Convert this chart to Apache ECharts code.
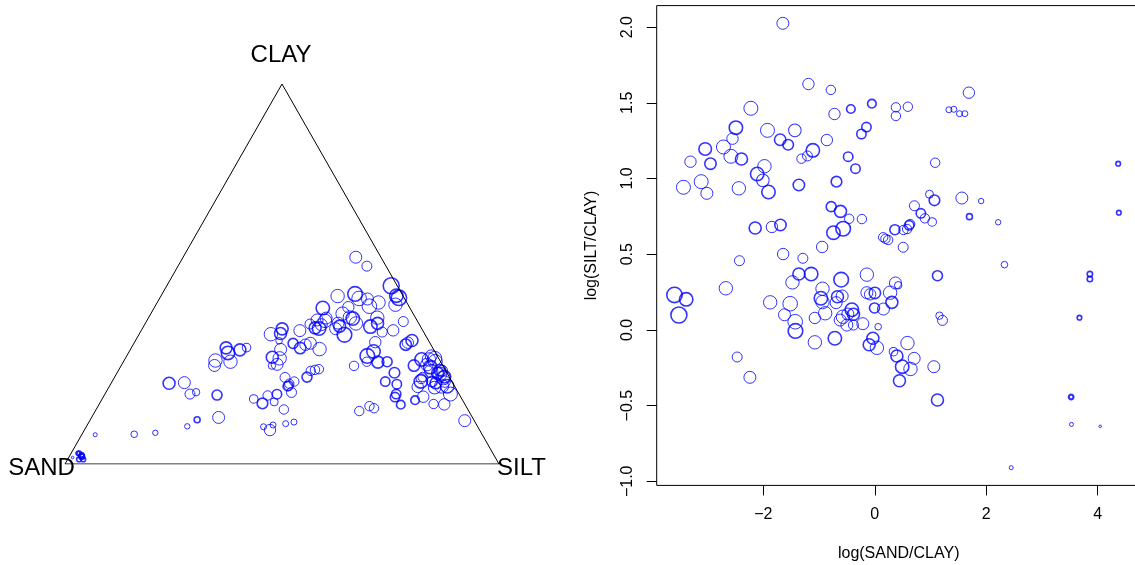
<!DOCTYPE html>
<html>
<head>
<meta charset="utf-8">
<script src="https://cdn.jsdelivr.net/npm/echarts@6/dist/echarts.min.js"></script>
<style>
  html, body { margin: 0; padding: 0; background: #fff; }
  #main { width: 1135px; height: 565px; }
</style>
</head>
<body>
<div id="main"></div>
<script>
// log-ratio coordinates of each sample (natural log)
var logSandClay = [
  -1.649, -2.223, -2.492, -2.553, -1.925, -1.697, -1.554, -1.434, -2.715, -3.043,
  -2.582, -2.392, -3.307, -2.948, -1.315, -1.979, -2.110, -2.008, -3.115, -3.433,
  -3.013, -2.439, -1.907, -1.362, -2.146, -1.846, -1.692, -1.644,
  -1.190, -0.788, -0.723, -0.429, -0.052, 0.379, 0.379, 0.594, 1.330, 1.419,
  1.520, 1.617, -0.149, -0.239, -0.860, -1.111, -1.208, -0.477, -0.346, 1.084,
  -0.687, -0.782, -0.615, -0.459, -0.231, -0.741, -0.567, -0.944, 0.151, 0.192,
  0.240, 0.361, 0.515, 0.617, 0.635, 0.581, 0.712, 0.827, 0.899, 1.030,
  0.982, 1.071, 1.563, 0.510,
  1.689, 4.368, 1.909, 1.699, 2.214, 4.380,
  -2.428, -1.290, -1.362, -1.477, -2.672, -3.594, -3.384, -3.515, -1.877, -1.518,
  -1.620, -1.428, -1.423, -2.469, -2.241,
  -1.141, -0.603, -0.142, 0.371, 0.420, 1.125, -0.938, -0.967, -0.938, -0.669,
  -0.585, -0.693, -0.890, -1.075, -0.142, -0.083, 0.002, 0.276, 0.307, -0.005,
  0.156, -0.411, -0.382, -0.483, -0.572, -0.621, -0.501, -0.382, -0.214, 0.061,
  -1.075, -0.716, -0.034, -0.100, 0.038, 0.587, 0.336, 0.397, 0.707, 0.492,
  0.641, 0.443, 1.060, 1.125, 1.161, 1.215,
  2.327, 3.860, 3.860, 3.673, 3.524, 3.530, 4.045, 2.448
];
var logSiltClay = [
  2.025, 1.464, 1.336, 1.263, 1.318, 1.256, 1.223, 1.318, 1.208, 1.195,
  1.147, 1.129, 1.111, 1.098, 1.131, 1.081, 1.030, 0.988, 0.979, 0.942,
  0.902, 0.935, 0.911, 0.957, 0.673, 0.680, 0.693, 0.501,
  1.624, 1.585, 1.426, 1.459, 1.494, 1.470, 1.413, 1.474, 1.454, 1.457,
  1.428, 1.428, 1.340, 1.294, 1.254, 1.186, 1.149, 1.144, 1.065, 1.104,
  0.979, 0.814, 0.783, 0.734, 0.732, 0.642, 0.668, 0.548, 0.612, 0.602,
  0.594, 0.662, 0.660, 0.691, 0.699, 0.666, 0.820, 0.770, 0.737, 0.713,
  0.896, 0.856, 0.871, 0.546,
  1.567, 1.098, 0.851, 0.748, 0.711, 0.774,
  0.457, 0.473, 0.369, 0.314, 0.275, 0.231, 0.202, 0.098, 0.182, 0.173,
  0.100, 0.054, -0.007, -0.179, -0.313,
  0.369, 0.332, 0.365, 0.310, 0.295, 0.358, 0.272, 0.209, 0.184, 0.219,
  0.224, 0.180, 0.110, 0.079, 0.246, 0.235, 0.244, 0.246, 0.182, 0.145,
  0.138, 0.133, 0.103, 0.105, 0.087, 0.065, 0.032, 0.032, 0.041, 0.021,
  -0.082, -0.055, -0.055, -0.098, -0.118, -0.087, -0.144, -0.172, -0.188, -0.243,
  -0.258, -0.336, -0.243, -0.463, 0.094, 0.063,
  0.431, 0.369, 0.336, 0.081, -0.443, -0.624, -0.637, -0.910
];
// value shown by the circle size
var bubble = [
  6.0, 7.0, 6.7, 5.7, 7.0, 5.7, 5.3, 6.3, 7.0, 6.3,
  7.0, 6.0, 5.7, 5.7, 4.7, 6.7, 6.7, 6.3, 7.0, 7.0,
  6.0, 6.7, 6.7, 5.7, 6.0, 5.7, 5.7, 5.7,
  5.7, 4.7, 5.7, 4.3, 4.3, 4.7, 4.7, 4.7, 3.0, 3.0,
  3.0, 3.0, 4.7, 4.7, 5.7, 6.7, 5.0, 4.7, 4.7, 4.7,
  5.3, 5.0, 6.0, 4.7, 4.7, 6.7, 7.3, 5.7, 4.7, 4.7,
  4.7, 5.0, 4.7, 4.7, 4.7, 4.7, 5.0, 4.7, 4.7, 4.3,
  4.0, 5.3, 6.0, 5.0,
  5.7, 2.3, 2.7, 3.0, 2.7, 2.3,
  5.0, 5.0, 6.0, 6.7, 6.7, 7.7, 6.7, 8.0, 6.7, 7.3,
  6.0, 7.3, 7.3, 5.0, 6.0,
  6.7, 7.3, 6.7, 6.0, 3.7, 5.0, 6.7, 6.7, 6.7, 6.0,
  6.0, 6.0, 6.7, 5.7, 6.0, 5.7, 5.7, 6.7, 6.0, 5.0,
  6.0, 6.7, 6.0, 6.0, 6.7, 6.0, 6.0, 5.0, 6.0, 3.3,
  6.7, 6.7, 6.0, 6.0, 6.7, 6.7, 4.3, 6.0, 6.0, 6.7,
  6.7, 6.0, 6.0, 6.0, 3.7, 5.0,
  3.3, 2.7, 2.7, 2.3, 2.3, 2.0, 1.3, 2.0
];
// number of coincident samples at each position
var reps = [
  1, 1, 2, 1, 1, 2, 2, 1, 1, 2,
  1, 2, 1, 2, 1, 1, 2, 1, 1, 1,
  1, 1, 2, 2, 2, 1, 2, 1,
  1, 1, 1, 2, 2, 1, 1, 1, 1, 1,
  1, 1, 2, 2, 1, 2, 1, 2, 2, 1,
  2, 2, 2, 1, 1, 2, 2, 1, 1, 1,
  1, 2, 1, 2, 1, 1, 1, 2, 1, 1,
  1, 2, 1, 1,
  1, 2, 1, 2, 1, 2,
  1, 1, 2, 1, 1, 2, 2, 2, 1, 1,
  1, 1, 2, 1, 1,
  2, 2, 1, 1, 1, 2, 1, 2, 1, 2,
  1, 1, 1, 1, 1, 1, 2, 1, 2, 2,
  1, 2, 2, 1, 1, 1, 1, 1, 1, 1,
  1, 2, 2, 2, 1, 1, 1, 2, 1, 2,
  1, 2, 1, 2, 1, 1,
  1, 2, 2, 2, 3, 1, 1, 1
];
var cornerNames = ["SAND", "SILT", "CLAY"];
var xTicks = [-2, 0, 2, 4];
var yTicks = [-1, -0.5, 0, 0.5, 1, 1.5, 2];

var FONT = "Liberation Sans, Arial, Helvetica, sans-serif";
var BLUE = "#0000ff";
var H = Math.sqrt(3) / 2;

function minus(s) { return String(s).replace("-", "\u2212"); }

function circleStyle(i) {
    return {
        color: "transparent",
        borderColor: BLUE,
        borderWidth: reps[i] > 1 ? 1 + 0.6 * (reps[i] - 1) : 1
    };
}

var ternaryPts = [];
var ratioPts = [];
for (var i = 0; i < logSandClay.length; i++) {
    var a = Math.exp(logSandClay[i]), b = Math.exp(logSiltClay[i]);
    var clay = 1 / (1 + a + b), silt = b * clay;
    ternaryPts.push({ value: [silt + clay / 2, clay * H], symbolSize: bubble[i] * 2, itemStyle: circleStyle(i) });
    ratioPts.push({ value: [logSandClay[i], logSiltClay[i]], symbolSize: bubble[i] * 2, itemStyle: circleStyle(i) });
}

var chart = echarts.init(document.getElementById("main"), null, { renderer: "canvas" });

function cornerLabel(k, x, y) {
    return { type: "text", x: x, y: y, z: 10,
             style: { text: cornerNames[k], font: "24px " + FONT, fill: "#000", align: "center", verticalAlign: "middle" } };
}

var option = {
    animation: false,
    backgroundColor: "#fff",
    textStyle: { fontFamily: FONT },
    grid: [
        { left: 65, top: 84, width: 434, height: 380, show: false, outerBoundsMode: "none" },
        { left: 656.7, top: 5.6, width: 484, height: 479.8, show: true, outerBoundsMode: "none",
          borderColor: "#000", borderWidth: 1, backgroundColor: "transparent" }
    ],
    xAxis: [
        { gridIndex: 0, type: "value", min: 0, max: 1, show: false },
        {
            gridIndex: 1, type: "value", min: -3.913, max: 4.772,
            axisLine: { show: false, onZero: false },
            splitLine: { show: false },
            axisTick: { show: true, length: 10, customValues: xTicks, lineStyle: { color: "#000" } },
            axisLabel: { customValues: xTicks, formatter: function (v) { return minus(v); },
                         fontSize: 16, color: "#000", margin: 21, fontFamily: FONT },
            name: "log(SAND/CLAY)", nameLocation: "middle", nameGap: 60,
            nameTextStyle: { fontSize: 16, color: "#000", fontFamily: FONT }
        }
    ],
    yAxis: [
        { gridIndex: 0, type: "value", min: 0, max: H, show: false },
        {
            gridIndex: 1, type: "value", min: -1.027, max: 2.142,
            axisLine: { show: false, onZero: false },
            splitLine: { show: false },
            axisTick: { show: true, length: 10, customValues: yTicks, lineStyle: { color: "#000" } },
            axisLabel: { customValues: yTicks, rotate: 90, formatter: function (v) { return minus(v.toFixed(1)); },
                         fontSize: 16, color: "#000", margin: 21, fontFamily: FONT },
            name: "log(SILT/CLAY)", nameLocation: "middle", nameGap: 57,
            nameTextStyle: { fontSize: 16, color: "#000", fontFamily: FONT }
        }
    ],
    graphic: [
        cornerLabel(0, 41.5, 468),
        cornerLabel(1, 521.5, 468),
        cornerLabel(2, 281, 55.5)
    ],
    series: [
        {
            type: "line", xAxisIndex: 0, yAxisIndex: 0, symbol: "none", silent: true,
            lineStyle: { color: "#000", width: 1 },
            data: [[0, 0], [1, 0], [0.5, H], [0, 0]]
        },
        {
            type: "scatter", xAxisIndex: 0, yAxisIndex: 0, symbol: "circle", data: ternaryPts
        },
        {
            type: "scatter", xAxisIndex: 1, yAxisIndex: 1, symbol: "circle", data: ratioPts
        }
    ]
};

chart.setOption(option);
</script>
</body>
</html>
